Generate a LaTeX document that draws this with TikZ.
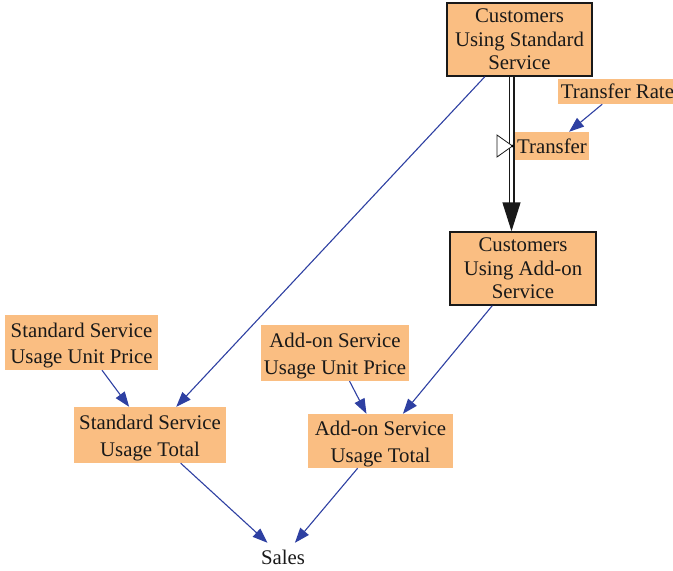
\documentclass[tikz,border=0pt]{standalone}
\usepackage{fontspec}
\setmainfont{Liberation Serif}
\usetikzlibrary{arrows.meta}
\definecolor{varfill}{RGB}{250,190,130}
\definecolor{linkblue}{RGB}{46,64,162}
\begin{document}
\begin{tikzpicture}[x=1pt,y=-1pt,
  every node/.style={font=\fontsize{20.8}{23.5}\selectfont, align=center, inner sep=0pt, text=black!90},
  stock/.style={draw=black!90, line width=1.4pt, fill=varfill},
  aux/.style={fill=varfill, font=\fontsize{20.8}{26.5}\selectfont},
  twoline/.style={text height=46.5pt},
  link/.style={draw=linkblue, line width=1.1pt, -{Triangle[length=15pt,width=11pt]}},
  pipe/.style={draw=black!90, line width=1.4pt, double=white, double distance=3.2pt,
    -{Triangle[length=29pt,width=18pt]}}
]
\useasboundingbox (0,0) rectangle (673,571);

% stocks
\node[stock, minimum width=145pt, minimum height=73pt] (cuss) at (519.5,39.5)
  {Customers\\Using Standard\\Service};
\node[stock, minimum width=146pt, minimum height=73pt] (cuas) at (523,268.5)
  {Customers\\Using Add-on\\Service};

% flow and auxiliaries
\node[aux, minimum width=119pt, minimum height=25pt] (rate) at (617.5,91.5) {Transfer Rate};
\node[aux, minimum width=74pt, minimum height=28pt] (transfer) at (552,146) {Transfer};
\node[aux, twoline, minimum width=153pt, minimum height=55pt] (ssuup) at (81.5,342.5)
  {Standard Service\\Usage Unit Price};
\node[aux, twoline, minimum width=148pt, minimum height=56pt] (aosuup) at (335,353)
  {Add-on Service\\Usage Unit Price};
\node[aux, twoline, minimum width=152pt, minimum height=56pt] (ssut) at (150,435)
  {Standard Service\\Usage Total};
\node[aux, twoline, minimum width=145pt, minimum height=54pt] (aosut) at (380.5,441)
  {Add-on Service\\Usage Total};
\node[minimum width=60pt, minimum height=28pt] (sales) at (283,557) {Sales};

% flow pipe with valve
\coordinate (pipex) at (511.5,0);
\draw[pipe] (cuss.south -| pipex) -- (cuas.north -| pipex);
\draw[black!90, fill=white, line width=0.8pt] (497,135) -- (512.5,146) -- (497,157) -- cycle;
\fill[black] (512.5,146) circle (1.3pt);

% information links
\draw[link] (cuss) -- (ssut);
\draw[link] (rate) -- (transfer);
\draw[link] (ssuup) -- (ssut);
\draw[link] (aosuup) -- (aosut);
\draw[link] (cuas) -- (aosut);
\draw[link] (ssut) -- (sales);
\draw[link] (aosut) -- (sales);
\end{tikzpicture}
\end{document}
